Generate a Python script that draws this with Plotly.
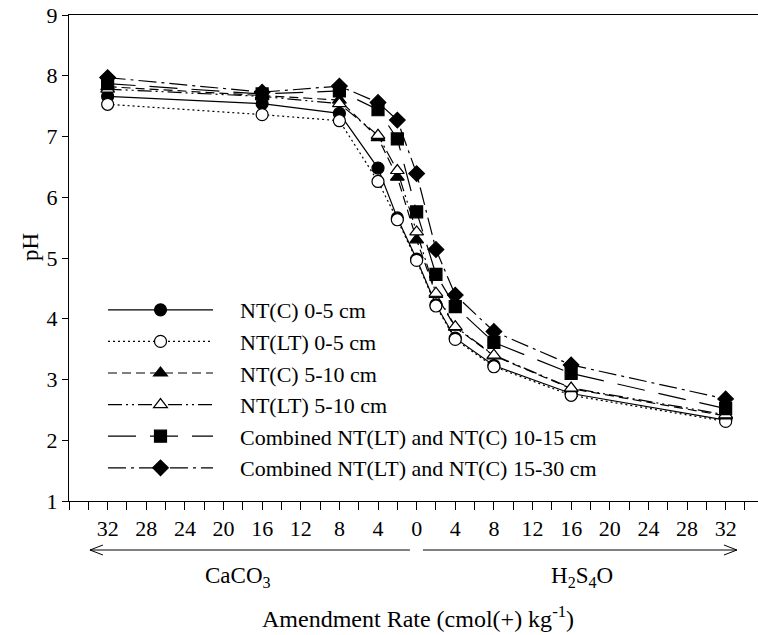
import plotly.graph_objects as go

# ---------------- data ----------------
rates = [-32, -16, -8, -4, -2, 0, 2, 4, 8, 16, 32]   # negative = CaCO3 side, positive = H2SO4 side

series_names = [
    "NT(C) 0-5 cm",
    "NT(LT) 0-5 cm",
    "NT(C) 5-10 cm",
    "NT(LT) 5-10 cm",
    "Combined NT(LT) and NT(C) 10-15 cm",
    "Combined NT(LT) and NT(C) 15-30 cm",
]
ntc_0_5 = [7.66, 7.54, 7.38, 6.48, 5.66, 4.98, 4.23, 3.68, 3.23, 2.77, 2.33]
ntlt_0_5 = [7.53, 7.36, 7.26, 6.26, 5.63, 4.96, 4.21, 3.66, 3.21, 2.74, 2.31]
ntc_5_10 = [7.82, 7.68, 7.60, 6.98, 6.33, 5.30, 4.40, 3.86, 3.39, 2.85, 2.40]
ntlt_5_10 = [7.78, 7.66, 7.54, 7.02, 6.44, 5.43, 4.42, 3.87, 3.40, 2.86, 2.42]
comb_10_15 = [7.87, 7.70, 7.75, 7.44, 6.96, 5.76, 4.73, 4.20, 3.61, 3.10, 2.52]
comb_15_30 = [7.97, 7.73, 7.83, 7.56, 7.27, 6.39, 5.14, 4.39, 3.79, 3.24, 2.68]
series_values = [ntc_0_5, ntlt_0_5, ntc_5_10, ntlt_5_10, comb_10_15, comb_15_30]

x_major_vals = list(range(-32, 33, 4))
x_major_text = [str(abs(v)) for v in x_major_vals]
x_minor_vals = list(range(-36, 35, 2))
y_tick_vals = [1, 2, 3, 4, 5, 6, 7, 8, 9]

# ---------------- styles ----------------
FONT = "Liberation Serif, Times New Roman, serif"
styles = [
    dict(dash="solid", symbol="circle", fill="black"),
    dict(dash="2px,3px", symbol="circle", fill="white"),
    dict(dash="9px,5px", symbol="triangle-up", fill="black"),
    dict(dash="14px,4px,2px,4px,2px,4px", symbol="triangle-up", fill="white"),
    dict(dash="28px,14px", symbol="square", fill="black"),
    dict(dash="18px,5px,3px,5px", symbol="diamond", fill="black"),
]
LEGEND_PAD = "\u00a0\u00a0\u00a0\u00a0"

fig = go.Figure()
for name, vals, st in zip(series_names, series_values, styles):
    fig.add_trace(go.Scatter(
        x=rates, y=vals, name=LEGEND_PAD + name, mode="lines+markers",
        line=dict(color="black", width=1.2, dash=st["dash"]),
        marker=dict(symbol=st["symbol"], size=12, color=st["fill"],
                    line=dict(color="black", width=1.2)),
    ))

W, H = 758, 635
ML, MR, MT, MB = 69, 0, 15, 134
PW = W - ML - MR
PH = H - MT - MB


def py(pix):
    """pixel row -> paper y"""
    return (H - MB - pix) / PH


ARROW_Y = py(550)
shapes = [
    # left arrow (CaCO3 side)
    dict(type="line", xref="x", yref="paper", x0=-0.7, x1=-33.83, y0=ARROW_Y, y1=ARROW_Y,
         line=dict(color="black", width=1)),
    dict(type="path", xref="x", yref="paper", xsizemode="pixel", ysizemode="pixel",
         xanchor=-33.83, yanchor=ARROW_Y, path="M 13 5 L 0 0 L 13 -5",
         line=dict(color="black", width=1)),
    # right arrow (H2SO4 side)
    dict(type="line", xref="x", yref="paper", x0=0.65, x1=33.17, y0=ARROW_Y, y1=ARROW_Y,
         line=dict(color="black", width=1)),
    dict(type="path", xref="x", yref="paper", xsizemode="pixel", ysizemode="pixel",
         xanchor=33.17, yanchor=ARROW_Y, path="M -13 5 L 0 0 L -13 -5",
         line=dict(color="black", width=1)),
]

annotations = [
    dict(x=-18.5, y=py(577), xref="x", yref="paper", text="CaCO<sub>3</sub>",
         showarrow=False, xanchor="center", yanchor="middle",
         font=dict(family=FONT, size=23, color="black")),
    dict(x=17.1, y=py(577), xref="x", yref="paper", text="H<sub>2</sub>S<sub>4</sub>O",
         showarrow=False, xanchor="center", yanchor="middle",
         font=dict(family=FONT, size=23, color="black")),
    dict(x=0.1, y=py(617), xref="x", yref="paper",
         text="Amendment Rate (cmol(+) kg<sup>-1</sup>)",
         showarrow=False, xanchor="center", yanchor="middle",
         font=dict(family=FONT, size=24, color="black")),
    dict(x=(30 - ML) / PW, y=py(247), xref="paper", yref="paper",
         text="pH", textangle=-90, showarrow=False, xanchor="center", yanchor="middle",
         font=dict(family=FONT, size=23, color="black")),
]

fig.update_layout(
    width=W, height=H,
    margin=dict(l=ML, r=MR, t=MT, b=MB, pad=0),
    paper_bgcolor="white", plot_bgcolor="white",
    font=dict(family=FONT, size=22, color="black"),
    showlegend=True,
    legend=dict(x=(103 - ML) / PW, y=py(289), xanchor="left", yanchor="top",
                bgcolor="rgba(0,0,0,0)", borderwidth=0, itemwidth=105,
                font=dict(family=FONT, size=22, color="black"), tracegroupgap=0),
    annotations=annotations,
    shapes=shapes,
    xaxis=dict(range=[-36, 35.35], tickmode="array", tickvals=x_major_vals, ticktext=x_major_text,
               ticks="outside", ticklen=8, tickwidth=1, tickcolor="black",
               minor=dict(tickmode="array", tickvals=x_minor_vals, ticks="outside",
                          ticklen=8, tickwidth=1, tickcolor="black", showgrid=False),
               showline=True, linecolor="black", linewidth=1, mirror=True,
               showgrid=False, zeroline=False,
               tickfont=dict(family=FONT, size=22, color="black")),
    yaxis=dict(range=[1, 9], tickmode="array", tickvals=y_tick_vals,
               ticks="outside", ticklen=6, tickwidth=1, tickcolor="black",
               showline=True, linecolor="black", linewidth=1, mirror=False,
               showgrid=False, zeroline=False,
               tickfont=dict(family=FONT, size=22, color="black")),
)

fig.write_html("out.html", config={"displayModeBar": False},
               post_script="document.body.style.margin='0px';document.body.style.overflow='hidden';")
